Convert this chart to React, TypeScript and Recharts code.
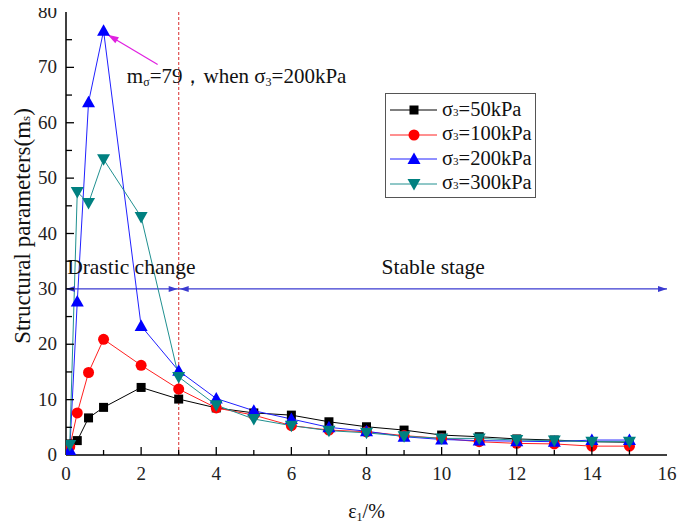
import React from 'react';
import { LineChart, Line, XAxis, YAxis, ReferenceLine, ReferenceDot, Legend } from 'recharts';

const FONT = "'Liberation Serif', 'Times New Roman', serif";

const strain = [0.1, 0.3, 0.6, 1, 2, 3, 4, 5, 6, 7, 8, 9, 10, 11, 12, 13, 14, 15];
const s50 = [2.0, 2.6, 6.7, 8.6, 12.2, 10.1, 8.5, 7.6, 7.2, 6.0, 5.1, 4.5, 3.6, 3.3, 2.9, 2.7, 2.4, 2.3];
const s100 = [1.5, 7.6, 14.9, 20.9, 16.2, 11.9, 8.5, 7.2, 5.3, 4.5, 4.2, 3.5, 3.0, 2.4, 2.1, 2.0, 1.6, 1.6];
const s200 = [0.9, 27.7, 63.7, 76.6, 23.3, 15.2, 10.2, 8.0, 6.5, 5.0, 4.3, 3.3, 2.8, 2.6, 2.5, 2.4, 2.7, 2.7];
const s300 = [1.8, 47.5, 45.5, 53.4, 43.0, 14.1, 9.0, 6.5, 5.3, 4.4, 4.0, 3.4, 3.0, 3.0, 2.7, 2.6, 2.4, 2.4];

const legendLabels = ['50kPa', '100kPa', '200kPa', '300kPa'];
const xTicks = [0, 1, 2, 3, 4, 5, 6, 7, 8, 9, 10, 11, 12, 13, 14, 15, 16];
const yTicks = [0, 5, 10, 15, 20, 25, 30, 35, 40, 45, 50, 55, 60, 65, 70, 75, 80];

const data = strain.map((x, i) => ({ strain: x, s50: s50[i], s100: s100[i], s200: s200[i], s300: s300[i] }));

const COLORS = ['#000000', '#ff0000', '#0000ff', '#008080'];
const LINE_COLORS = ['#000000', '#ff2020', '#2020ff', '#209090'];

const drawMarker = (kind: number, cx: number, cy: number, key?: any) => {
  if (cx == null || cy == null) return <g key={key} />;
  if (kind === 0) return <rect key={key} x={cx - 4.5} y={cy - 4.5} width={9} height={9} fill={COLORS[0]} />;
  if (kind === 1) return <circle key={key} cx={cx} cy={cy} r={5.5} fill={COLORS[1]} />;
  if (kind === 2)
    return <polygon key={key} points={`${cx},${cy - 6.5} ${cx - 6.5},${cy + 5} ${cx + 6.5},${cy + 5}`} fill={COLORS[2]} />;
  return <polygon key={key} points={`${cx},${cy + 6.5} ${cx - 6.5},${cy - 5} ${cx + 6.5},${cy - 5}`} fill={COLORS[3]} />;
};

const mkDot = (kind: number) => (p: any) => drawMarker(kind, p.cx, p.cy, `d${kind}-${p.index}`);

const BottomTick = (p: any) => {
  const { x, y, payload } = p;
  const v = payload.value;
  const major = v % 2 === 0;
  return (
    <g>
      {v > 0 && v < 16 && <line x1={x} x2={x} y1={y} y2={y - (major ? 8 : 5)} stroke="#000" strokeWidth={1.3} />}
      {major && (
        <text x={x} y={y + 25} textAnchor="middle" fontFamily={FONT} fontSize={19} fill="#222">
          {v}
        </text>
      )}
    </g>
  );
};

const TopTick = (p: any) => {
  const { x, y, payload } = p;
  const v = payload.value;
  const major = v % 2 === 0;
  if (v <= 0 || v >= 16) return <g />;
  return <line x1={x} x2={x} y1={y} y2={y + (major ? 8 : 5)} stroke="#000" strokeWidth={1.3} />;
};

const LeftTick = (p: any) => {
  const { x, y, payload } = p;
  const v = payload.value;
  const major = v % 10 === 0;
  return (
    <g>
      {v > 0 && v < 80 && <line x1={x} x2={x + (major ? 8 : 6)} y1={y} y2={y} stroke="#000" strokeWidth={1.3} />}
      {major && (
        <text x={x - 9} y={y} dy={6} textAnchor="end" fontFamily={FONT} fontSize={19} fill="#222">
          {v}
        </text>
      )}
    </g>
  );
};

const RightTick = (p: any) => {
  const { x, y, payload } = p;
  const v = payload.value;
  const major = v % 10 === 0;
  if (v <= 0 || v >= 80) return <g />;
  return <line x1={x} x2={x - (major ? 8 : 6)} y1={y} y2={y} stroke="#000" strokeWidth={1.3} />;
};

const arrowHead = (dir: number, color: string) => (p: any) => {
  const { cx, cy } = p;
  if (cx == null) return <g />;
  const L = 9;
  const H = 3;
  return (
    <polygon
      points={`${cx},${cy} ${cx - dir * L},${cy - H} ${cx - dir * L},${cy + H}`}
      fill={color}
    />
  );
};

const magentaHead = (p: any) => {
  const { cx, cy } = p;
  if (cx == null) return <g />;
  return (
    <g transform={`translate(${cx},${cy}) rotate(31)`}>
      <polygon points="0,0 11,-3.5 11,3.5" fill="#e020e0" />
    </g>
  );
};

const annotationText = (p: any) => {
  const { cx, cy } = p;
  if (cx == null) return <g />;
  return (
    <text x={cx} y={cy} fontFamily={FONT} fontSize={21} fill="#111">
      m<tspan fontSize={12} dy={3}>σ</tspan>
      <tspan dy={-3}>=79，when σ</tspan>
      <tspan fontSize={12} dy={3}>3</tspan>
      <tspan dy={-3}>=200kPa</tspan>
    </text>
  );
};

const stageText = (label: string) => (p: any) => {
  const { cx, cy } = p;
  if (cx == null) return <g />;
  return (
    <text x={cx} y={cy} fontFamily={FONT} fontSize={21.5} fill="#111">
      {label}
    </text>
  );
};

const YLabel = (p: any) => {
  const cx = 22;
  const cy = 226;
  return (
    <text
      x={cx}
      y={cy}
      transform={`rotate(-90, ${cx}, ${cy})`}
      textAnchor="middle"
      dominantBaseline="central"
      fontFamily={FONT}
      fontSize={23}
      fill="#111"
    >
      Structural parameters(m<tspan fontSize={13} dy={3}>s</tspan>
      <tspan dy={-3}>)</tspan>
    </text>
  );
};

const XLabel = (p: any) => {
  const vb = p.viewBox || {};
  const cx = (vb.x ?? 66) + (vb.width ?? 601) / 2;
  const cy = 518;
  return (
    <text x={cx} y={cy} textAnchor="middle" fontFamily={FONT} fontSize={20} fill="#111">
      ε<tspan fontSize={12} dy={3}>1</tspan>
      <tspan dy={-3}>/%</tspan>
    </text>
  );
};

const LegendBox = () => (
  <div
    style={{
      border: '1.5px solid #555',
      background: '#fff',
      width: 151,
      height: 105,
      boxSizing: 'border-box',
      paddingTop: 4,
      fontFamily: FONT,
    }}
  >
    {legendLabels.map((lab, i) => (
      <div key={lab} style={{ display: 'flex', alignItems: 'center', height: 24.5 }}>
        <svg width={56} height={24} style={{ display: 'block' }}>
          <line x1={4} x2={51} y1={12} y2={12} stroke={LINE_COLORS[i]} strokeWidth={1} />
          {drawMarker(i, 28, 12)}
        </svg>
        <span style={{ fontSize: 20.5, color: '#111', whiteSpace: 'nowrap', lineHeight: '24px' }}>
          σ<span style={{ fontSize: 11 }}>3</span>={lab}
        </span>
      </div>
    ))}
  </div>
);

export default function App() {
  return (
    <div style={{ width: 685, height: 528, position: 'relative', marginTop: -8, marginLeft: -8 }}>
      <LineChart width={685} height={528} data={data} margin={{ top: 12, right: 18, bottom: 0, left: 0 }}>
        <XAxis
          dataKey="strain"
          type="number"
          domain={[0, 16]}
          ticks={xTicks}
          interval={0}
          height={73}
          tickSize={0}
          tickMargin={0}
          tickLine={false}
          tick={BottomTick}
          axisLine={{ stroke: '#000', strokeWidth: 1.5 }}
          allowDataOverflow
          label={XLabel}
        />
        <XAxis
          xAxisId="top"
          orientation="top"
          type="number"
          domain={[0, 16]}
          ticks={xTicks}
          interval={0}
          height={0}
          tickSize={0}
          tickMargin={0}
          tickLine={false}
          tick={TopTick}
          axisLine={{ stroke: '#000', strokeWidth: 1.5 }}
          allowDataOverflow
        />
        <YAxis
          type="number"
          domain={[0, 80]}
          ticks={yTicks}
          interval={0}
          width={66}
          tickSize={0}
          tickMargin={0}
          tickLine={false}
          tick={LeftTick}
          axisLine={{ stroke: '#000', strokeWidth: 1.5 }}
          allowDataOverflow
          label={YLabel}
        />
        <YAxis
          yAxisId="right"
          orientation="right"
          type="number"
          domain={[0, 80]}
          ticks={yTicks}
          interval={0}
          width={0}
          tickSize={0}
          tickMargin={0}
          tickLine={false}
          tick={RightTick}
          axisLine={{ stroke: '#000', strokeWidth: 1.5 }}
          allowDataOverflow
        />
        <ReferenceLine x={3} stroke="#e05050" strokeDasharray="3 2" strokeWidth={1.2} />
        <ReferenceLine segment={[{ x: 0, y: 30 }, { x: 3, y: 30 }]} stroke="#3a3ad0" strokeWidth={1.2} />
        <ReferenceLine segment={[{ x: 3, y: 30 }, { x: 16, y: 30 }]} stroke="#3a3ad0" strokeWidth={1.2} />
        <ReferenceDot x={0} y={30} r={0} shape={arrowHead(-1, '#3a3ad0')} ifOverflow="visible" />
        <ReferenceDot x={3} y={30} r={0} shape={(p: any) => arrowHead(1, '#3a3ad0')({ cx: p.cx - 1, cy: p.cy })} />
        <ReferenceDot x={3} y={30} r={0} shape={(p: any) => arrowHead(-1, '#3a3ad0')({ cx: p.cx + 1, cy: p.cy })} />
        <ReferenceDot x={16} y={30} r={0} shape={arrowHead(1, '#3a3ad0')} ifOverflow="visible" />
        <ReferenceDot x={0.03} y={32.7} r={0} shape={stageText('Drastic change')} />
        <ReferenceDot x={8.4} y={32.6} r={0} shape={stageText('Stable stage')} />
        <ReferenceLine segment={[{ x: 2.44, y: 70.5 }, { x: 1.11, y: 75.9 }]} stroke="#e020e0" strokeWidth={1.2} />
        <ReferenceDot x={1.11} y={75.9} r={0} shape={magentaHead} />
        <ReferenceDot x={1.62} y={67.2} r={0} shape={annotationText} />
        <Line dataKey="s50" stroke={LINE_COLORS[0]} strokeWidth={1} dot={mkDot(0)} isAnimationActive={false} />
        <Line dataKey="s100" stroke={LINE_COLORS[1]} strokeWidth={1} dot={mkDot(1)} isAnimationActive={false} />
        <Line dataKey="s200" stroke={LINE_COLORS[2]} strokeWidth={1} dot={mkDot(2)} isAnimationActive={false} />
        <Line dataKey="s300" stroke={LINE_COLORS[3]} strokeWidth={1} dot={mkDot(3)} isAnimationActive={false} />
        <Legend
          layout="vertical"
          align="center"
          verticalAlign="middle"
          content={LegendBox}
          wrapperStyle={{ position: 'absolute', left: 385, top: 93, width: 151, height: 105 }}
        />
      </LineChart>
    </div>
  );
}
